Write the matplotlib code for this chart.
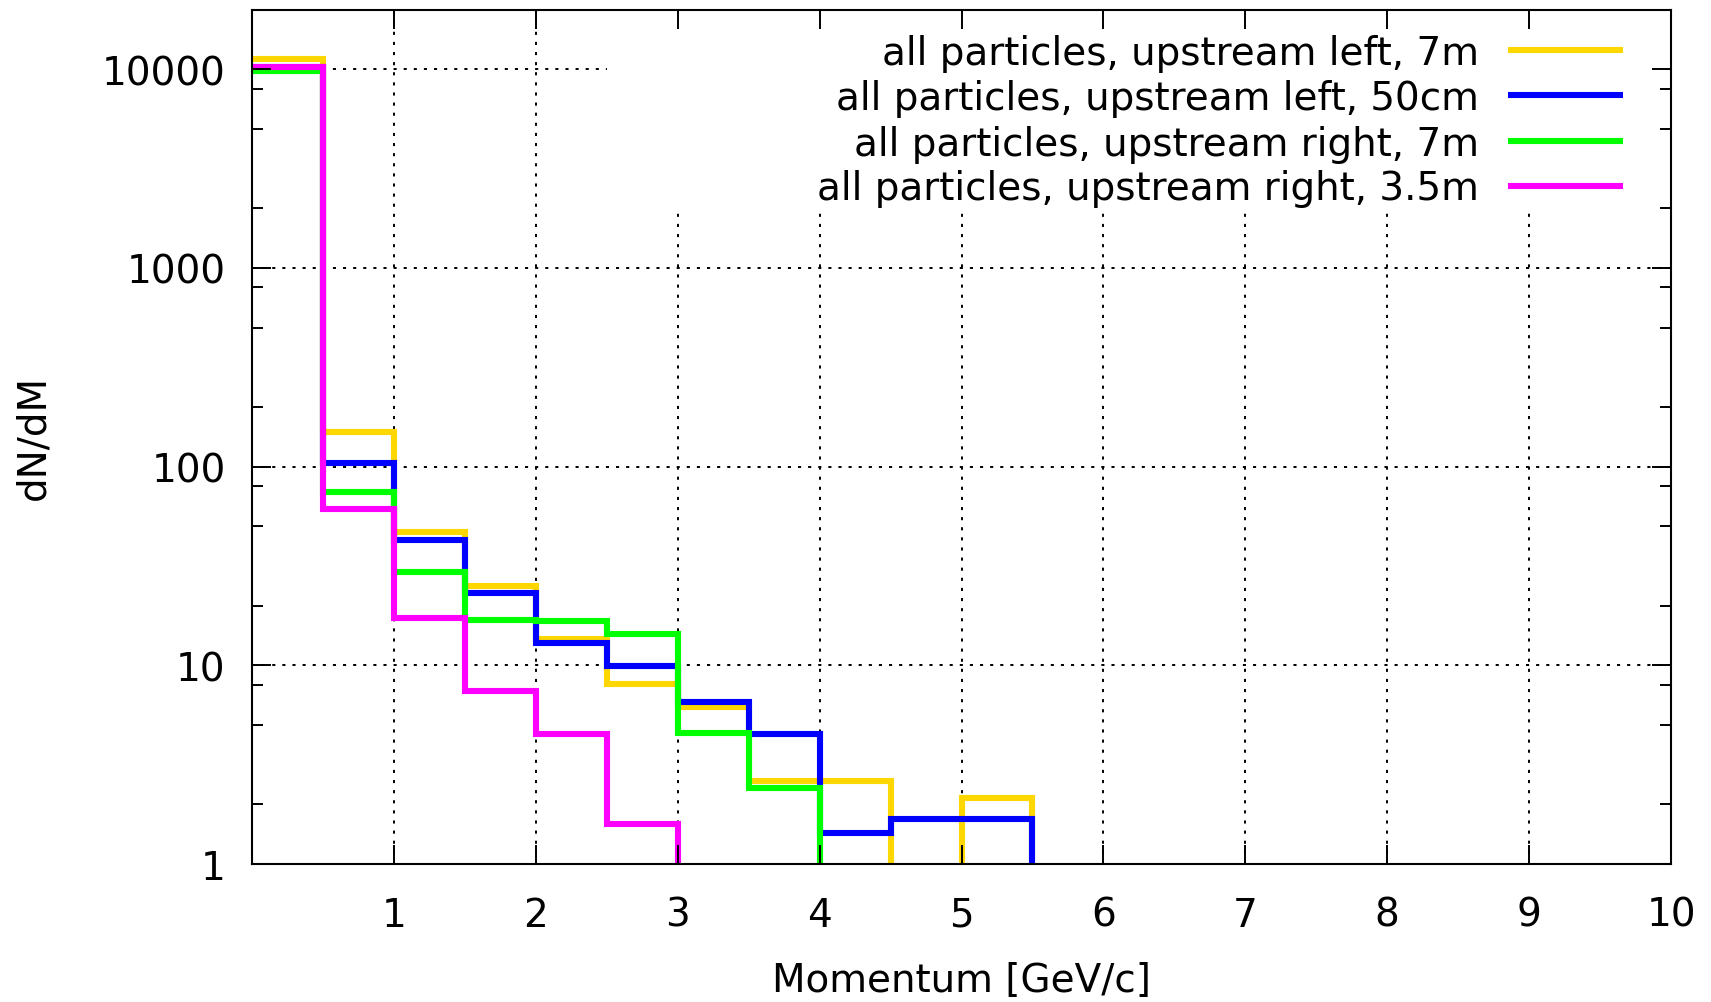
import numpy as np
import matplotlib
matplotlib.use("Agg")
import matplotlib.pyplot as plt
from matplotlib.ticker import LogLocator, NullFormatter, FuncFormatter, FixedLocator
from matplotlib.patches import Rectangle

# ---- data (bin edges every 0.5 GeV/c, 0..10) ----
bin_edges = [0.0, 0.5, 1.0, 1.5, 2.0, 2.5, 3.0, 3.5, 4.0, 4.5, 5.0,
             5.5, 6.0, 6.5, 7.0, 7.5, 8.0, 8.5, 9.0, 9.5, 10.0]
up_left_7m = [11300, 150, 47, 25, 13.6, 8.1, 6.2, 2.62, 2.62, 0, 2.16,
              0, 0, 0, 0, 0, 0, 0, 0, 0]
up_left_50cm = [10300, 104, 42.5, 23, 13, 9.9, 6.5, 4.5, 1.43, 1.69, 1.69,
                0, 0, 0, 0, 0, 0, 0, 0, 0]
up_right_7m = [9770, 74.6, 29.6, 17.0, 16.8, 14.3, 4.56, 2.41, 0, 0, 0,
               0, 0, 0, 0, 0, 0, 0, 0, 0]
up_right_3p5m = [10230, 61, 17.3, 7.46, 4.49, 1.59, 0, 0, 0, 0, 0,
                 0, 0, 0, 0, 0, 0, 0, 0, 0]

series_labels = ["all particles, upstream left, 7m",
                 "all particles, upstream left, 50cm",
                 "all particles, upstream right, 7m",
                 "all particles, upstream right, 3.5m"]
series_values = [up_left_7m, up_left_50cm, up_right_7m, up_right_3p5m]
series_colors = ["#FFD700", "#0000FF", "#00FF00", "#FF00FF"]

x_ticks = [1, 2, 3, 4, 5, 6, 7, 8, 9, 10]
y_ticks = [1, 10, 100, 1000, 10000]

plt.rcParams['font.family'] = ['DejaVu Sans']

fig = plt.figure(figsize=(17.11, 10.03), dpi=100)
ax = fig.add_axes([252 / 1711, 1 - 865 / 1003, (1671 - 252) / 1711, (865 - 10.5) / 1003])

ax.set_yscale('log', nonpositive='clip')
ax.set_xlim(0, 10)
ax.set_ylim(1, 20000)

edges = np.array(bin_edges)
for vals, col in zip(series_values, series_colors):
    v = np.array(vals, dtype=float)
    ax.step(edges, np.append(v, v[-1]), where='post', color=col, lw=4.4,
            zorder=2, solid_joinstyle='miter')

# grid (manual so it can sit below the key background)
grid_style = dict(color='black', linestyle=(0, (1.6, 3.6)), linewidth=1.4, zorder=1)
for xv in x_ticks[:-1]:
    ax.axvline(xv, **grid_style)
for yv in y_ticks[1:]:
    ax.axhline(yv, **grid_style)

# opaque key area
ax.add_patch(Rectangle((0.2505, 0.7665), 1 - 0.2505, 1 - 0.7665,
                       transform=ax.transAxes, facecolor='white',
                       edgecolor='none', zorder=1.2))

ax.set_axisbelow(False)
ax.xaxis.set_major_locator(FixedLocator(x_ticks))
ax.yaxis.set_major_locator(FixedLocator(y_ticks))
ax.yaxis.set_major_formatter(FuncFormatter(lambda v, p: f"{v:g}"))
ax.yaxis.set_minor_locator(LogLocator(base=10, subs=(2, 5, 8)))
ax.yaxis.set_minor_formatter(NullFormatter())

ax.tick_params(which='both', direction='in', top=True, right=True,
               width=1.4, color='black')
ax.tick_params(which='major', length=14)
ax.tick_params(which='minor', length=8)
ax.tick_params(axis='x', which='major', pad=23, labelsize=28)
ax.tick_params(axis='y', which='major', pad=19, labelsize=28)
for s in ax.spines.values():
    s.set_linewidth(1.5)

ax.set_xlabel("Momentum [GeV/c]", fontsize=28)
ax.xaxis.set_label_coords(0.5, (865 - 981) / 854.5)
ax.xaxis.label.set_va('center')
ax.set_ylabel("dN/dM", fontsize=28)
ax.yaxis.set_label_coords((33 - 252) / 1419, 0.5)
ax.yaxis.label.set_va('center')

# key
row_y = [0.953, 0.8996, 0.8464, 0.7939]
for lab, col, yr in zip(series_labels, series_colors, row_y):
    ax.plot([0.885, 0.9661], [yr, yr], transform=ax.transAxes, color=col,
            lw=4.4, solid_capstyle='butt', clip_on=False, zorder=3)
    ax.text(0.8645, yr - 0.0162, lab, transform=ax.transAxes, ha='right',
            va='baseline', fontsize=28, zorder=3)

fig.savefig("out.png", dpi=100)
